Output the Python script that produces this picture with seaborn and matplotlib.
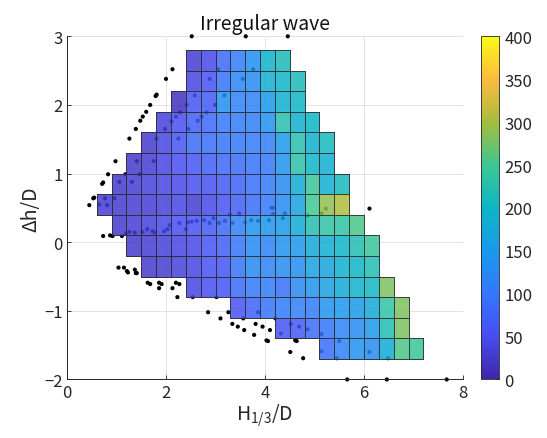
import numpy as np
import matplotlib
matplotlib.use("Agg")
import matplotlib.pyplot as plt
from matplotlib.colors import LinearSegmentedColormap, Normalize
import matplotlib.cm as cm
import seaborn as sns

# Binned grid (0.3 x 0.3 cells), one list per row from top to bottom
bin_size = 0.3
row_bottom = [2.5, 2.2, 1.9, 1.6, 1.3, 1.0, 0.7, 0.4, 0.1, -0.2, -0.5, -0.8, -1.1, -1.4, -1.7]
row_start = [2.4, 2.4, 2.1, 1.8, 1.5, 1.2, 0.9, 0.6, 0.9, 1.2, 1.5, 2.4, 3.3, 4.2, 5.1]
row_values = [
    [30, 45, 80, 105, 135, 195, 215],
    [40, 55, 95, 120, 130, 185, 200, 215],
    [15, 60, 65, 135, 115, 115, 150, 190, 200],
    [35, 50, 70, 80, 100, 105, 110, 140, 225, 190, 200],
    [25, 40, 60, 85, 90, 95, 100, 105, 110, 150, 225, 190, 210],
    [25, 30, 40, 50, 60, 70, 80, 85, 95, 100, 140, 230, 200, 185],
    [25, 30, 35, 40, 45, 50, 55, 65, 75, 90, 100, 125, 180, 245, 185, 210],
    [30, 25, 30, 30, 35, 40, 30, 45, 55, 70, 85, 100, 130, 165, 250, 290, 305],
    [25, 30, 35, 45, 50, 55, 65, 80, 110, 140, 145, 150, 180, 225, 235, 235, 255],
    [25, 30, 35, 40, 45, 60, 70, 95, 125, 115, 140, 145, 175, 185, 200, 220, 245],
    [25, 30, 35, 40, 55, 60, 95, 125, 115, 130, 130, 165, 170, 190, 200, 220],
    [40, 50, 60, 85, 100, 105, 90, 125, 140, 160, 180, 195, 205, 280],
    [55, 75, 95, 105, 110, 105, 140, 145, 150, 175, 235, 280],
    [60, 65, 85, 95, 115, 130, 145, 220, 280],
    [90, 115, 140, 130, 180, 255, 245],
]

# Individual wave points (H1/3/D, dh/D)
dot_x = [2.52, 3.61, 4.46,
         2.13, 2.00, 1.81, 1.79, 1.68, 1.60, 1.53, 1.48, 1.39, 1.26, 0.98, 0.83, 0.73, 0.71,
         0.55, 0.53, 0.45, 0.65, 1.18,
         0.73, 0.87, 0.92, 1.11, 1.19,
         1.04, 1.15, 1.21, 1.23, 1.37, 1.41, 1.39,
         1.63, 1.68, 1.86, 1.91, 1.86, 2.13, 2.20, 2.27, 2.23, 2.54, 3.02,
         2.85, 3.10, 3.26, 3.34, 3.45, 3.58, 3.56, 3.78, 3.81, 3.95, 4.10, 4.03, 4.06,
         4.51, 4.61, 4.64, 4.77, 4.21,
         5.66, 6.46, 7.67, 6.11,
         1.26, 1.37, 1.52, 1.62, 1.73, 1.77, 1.96, 2.03, 2.08, 2.27, 2.40, 2.44, 2.52, 2.62,
         2.77, 2.88, 2.96, 3.07, 3.19, 3.29, 3.34, 3.48, 3.60, 3.72, 3.86, 4.08, 4.16, 4.16,
         4.36, 4.40, 4.86, 5.14, 5.23,
         3.05, 3.76, 2.88, 3.55, 2.58, 3.18, 2.42, 2.99, 2.82, 2.28, 2.72, 2.64, 2.20, 2.11,
         2.45, 1.98, 1.81, 2.25,
         1.41, 1.75, 1.47, 1.06, 1.31, 0.77, 0.96, 0.81,
         3.86, 4.52, 4.69, 4.32, 4.86, 5.14, 5.14, 5.50, 5.45, 6.11, 6.48, 4.13]
dot_y = [3.00, 3.00, 3.00,
         2.52, 2.38, 2.15, 2.13, 2.00, 1.90, 1.83, 1.77, 1.65, 1.51, 1.18, 0.99, 0.87, 0.85,
         0.65, 0.64, 0.54, 0.55, 0.99,
         0.09, 0.10, 0.09, 0.09, 0.13,
         -0.37, -0.37, -0.42, -0.44, -0.40, -0.45, -0.45,
         -0.59, -0.61, -0.59, -0.61, -0.67, -0.67, -0.59, -0.61, -0.80, -0.80, -0.80,
         -1.02, -1.11, -1.02, -1.19, -1.23, -1.28, -1.11, -1.35, -1.19, -1.23, -1.28, -1.43, -1.44,
         -1.60, -1.43, -1.44, -1.69, -1.11,
         -2.00, -2.00, -2.00, 0.49,
         0.15, 0.14, 0.15, 0.19, 0.16, 0.14, 0.16, 0.19, 0.25, 0.28, 0.19, 0.29, 0.30, 0.31,
         0.32, 0.28, 0.35, 0.28, 0.31, 0.40, 0.28, 0.42, 0.29, 0.32, 0.31, 0.32, 0.50, 0.41,
         0.35, 0.42, 0.39, 0.42, 0.49,
         2.52, 2.52, 2.38, 2.38, 2.14, 2.14, 2.00, 2.00, 1.89, 1.89, 1.83, 1.77, 1.83, 1.76,
         1.65, 1.65, 1.51, 1.51,
         1.18, 1.18, 0.99, 0.88, 0.88, 0.64, 0.64, 0.54,
         -1.02, -1.19, -1.23, -1.33, -1.27, -1.34, -1.59, -1.44, -1.69, -1.60, -1.69, 0.50]

colorbar_ticks = [0, 50, 100, 150, 200, 250, 300, 350, 400]

# MATLAB parula (approximation)
parula = LinearSegmentedColormap.from_list("parula", [
    (0.2422, 0.1504, 0.6603),
    (0.2810, 0.3000, 0.9500),
    (0.2000, 0.4700, 0.9900),
    (0.1000, 0.6000, 0.9200),
    (0.0500, 0.7100, 0.7800),
    (0.2400, 0.7800, 0.5800),
    (0.6500, 0.7400, 0.2400),
    (0.9900, 0.7300, 0.2500),
    (0.9769, 0.9839, 0.0805),
])

sns.set_style("whitegrid")
plt.rcParams['font.family'] = ['Noto Sans CJK JP', 'DejaVu Sans']
plt.rcParams['mathtext.default'] = 'regular'

fig = plt.figure(figsize=(5.47, 4.39), dpi=100)
ax = fig.add_axes([0.1225, 0.1333, 0.724, 0.7817])

sns.scatterplot(x=dot_x, y=dot_y, color='black', s=9, edgecolor='none',
                ax=ax, zorder=2, legend=False)
ax.collections[-1].set_clip_on(False)

# one mesh per row so only filled cells get an outline
for bottom, start, vals in zip(row_bottom, row_start, row_values):
    xe = start + bin_size * np.arange(len(vals) + 1)
    ye = [bottom, bottom + bin_size]
    ax.pcolormesh(xe, ye, np.array([vals], dtype=float), cmap=parula,
                  vmin=0, vmax=400, alpha=0.85, edgecolors='#2b2b2b',
                  linewidth=0.7, zorder=3)

ax.set_xlim(0, 8)
ax.set_ylim(-2, 3)
ax.set_xticks([0, 2, 4, 6, 8])
ax.set_yticks([-2, -1, 0, 1, 2, 3])
ax.grid(True, color='#e3e3e3', linewidth=0.7)
ax.set_axisbelow(True)
for side in ['top', 'right']:
    ax.spines[side].set_visible(False)
for side in ['left', 'bottom']:
    ax.spines[side].set_color('#262626')
    ax.spines[side].set_linewidth(0.7)
ax.tick_params(direction='in', length=3, width=0.6, colors='#262626',
               labelsize=12, pad=3, left=True, bottom=True)

ax.set_title('Irregular wave', fontsize=14, pad=5, color='#111111')
ax.set_xlabel('$H_{1/3}$/D', fontsize=14, color='#262626', labelpad=1)
ax.set_ylabel('Δh/D', fontsize=14, color='#262626', labelpad=2)

cax = fig.add_axes([0.8793, 0.1333, 0.0329, 0.7817])
sm = cm.ScalarMappable(norm=Normalize(0, 400), cmap=parula)
cb = fig.colorbar(sm, cax=cax, ticks=colorbar_ticks)
cb.outline.set_edgecolor('#262626')
cb.outline.set_linewidth(0.6)
cax.tick_params(direction='in', length=3, width=0.6, colors='#262626',
                labelsize=12, pad=4)
cax.grid(False)

fig.savefig('out.png', dpi=100)
